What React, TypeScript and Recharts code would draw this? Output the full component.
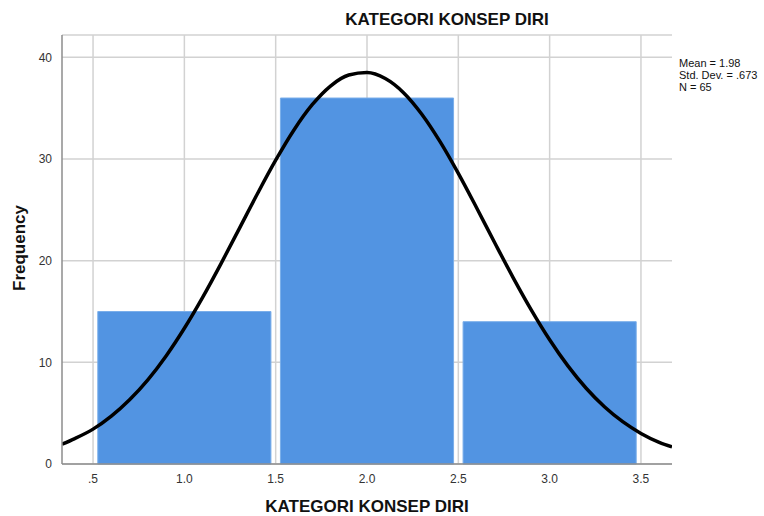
import {
  CartesianGrid,
  ComposedChart,
  Line,
  ReferenceArea,
  XAxis,
  YAxis,
} from "recharts";

// histogram bins (class limits) and their frequencies
const binStarts = [0.5, 1.5, 2.5];
const binEnds = [1.5, 2.5, 3.5];
const frequencies = [15, 36, 14];

// fitted normal curve
const curveX = [
  0.33, 0.4, 0.5, 0.6, 0.7, 0.8, 0.9, 1.0, 1.1, 1.2, 1.3, 1.4, 1.5, 1.6, 1.7,
  1.8, 1.9, 2.0, 2.1, 2.2, 2.3, 2.4, 2.5, 2.6, 2.7, 2.8, 2.9, 3.0, 3.1, 3.2,
  3.3, 3.4, 3.5, 3.6, 3.67,
];
const curveY = [
  1.95, 2.5, 3.43, 4.71, 6.32, 8.28, 10.63, 13.35, 16.39, 19.69, 23.13, 26.58,
  29.88, 32.86, 35.34, 37.18, 38.26, 38.51, 37.92, 36.53, 34.41, 31.71, 28.59,
  25.21, 21.74, 18.34, 15.14, 12.22, 9.65, 7.45, 5.63, 4.16, 3.01, 2.13, 1.68,
];

const xTicks = [0.5, 1.0, 1.5, 2.0, 2.5, 3.0, 3.5];
const yTicks = [0, 10, 20, 30, 40];
const xDomain = [0.33, 3.67];

const statLines = ["Mean = 1.98", "Std. Dev. = .673", "N = 65"];

const chartData = curveX.map((x, i) => ({ x, y: curveY[i] }));

const barInset = 0.026;

const fontFamily = "Arial, 'Liberation Sans', sans-serif";

function formatX(v: number) {
  const s = v.toFixed(1);
  return s.startsWith("0") ? s.slice(1) : s;
}

// vertical grid lines only at the tick values (no line at the right edge)
function verticalGrid(props: any) {
  const scale = props?.xAxis?.scale;
  if (typeof scale === "function") return xTicks.map((t) => scale(t));
  const { left, width } = props.offset;
  return xTicks.map(
    (t) => left + ((t - xDomain[0]) / (xDomain[1] - xDomain[0])) * width
  );
}

export default function App() {
  return (
    <div
      style={{
        position: "absolute",
        left: 0,
        top: 0,
        width: 764,
        height: 516,
        background: "#fff",
        fontFamily,
      }}
    >
      <div
        style={{
          position: "absolute",
          left: 345,
          top: 10,
          width: 204,
          textAlign: "center",
          fontSize: 17,
          fontWeight: 700,
          color: "#111",
          whiteSpace: "nowrap",
        }}
      >
        KATEGORI KONSEP DIRI
      </div>

      <ComposedChart
        width={764}
        height={516}
        data={chartData}
        margin={{ top: 35, right: 92, left: 32, bottom: 22 }}
      >
        <CartesianGrid
          stroke="#d2d2d2"
          strokeWidth={1.5}
          verticalCoordinatesGenerator={verticalGrid}
        />

        <XAxis
          dataKey="x"
          type="number"
          domain={xDomain}
          ticks={xTicks}
          allowDataOverflow
          tickFormatter={formatX}
          height={30}
          tickLine={false}
          axisLine={{ stroke: "#8c8c8c", strokeWidth: 1.5 }}
          tick={{ fill: "#333", fontSize: 12, fontFamily }}
          tickMargin={4}
        />

        <YAxis
          type="number"
          domain={[0, 42.2]}
          ticks={yTicks}
          allowDataOverflow
          width={30}
          tickLine={false}
          axisLine={{ stroke: "#8c8c8c", strokeWidth: 1.5 }}
          tick={{ fill: "#333", fontSize: 12, fontFamily }}
          tickMargin={4}
        />

        {frequencies.map((f, i) => (
          <ReferenceArea
            key={i}
            x1={binStarts[i] + barInset}
            x2={binEnds[i] - barInset}
            y1={0}
            y2={f}
            fill="#5294e2"
            fillOpacity={1}
            stroke="#7aaeea"
            strokeWidth={1}
          />
        ))}

        <Line
          dataKey="y"
          type="monotone"
          stroke="#000"
          strokeWidth={3.5}
          dot={false}
          activeDot={false}
          isAnimationActive={false}
        />
      </ComposedChart>

      <div
        style={{
          position: "absolute",
          left: 679,
          top: 57,
          fontSize: 11,
          lineHeight: "12px",
          color: "#111",
          whiteSpace: "nowrap",
        }}
      >
        {statLines.map((s) => (
          <div key={s}>{s}</div>
        ))}
      </div>

      <div
        style={{
          position: "absolute",
          left: 265,
          top: 497,
          width: 204,
          textAlign: "center",
          fontSize: 17,
          fontWeight: 700,
          color: "#111",
          whiteSpace: "nowrap",
        }}
      >
        KATEGORI KONSEP DIRI
      </div>

      <div
        style={{
          position: "absolute",
          left: 20,
          top: 248,
          transform: "translate(-50%, -50%) rotate(-90deg)",
          fontSize: 17,
          fontWeight: 700,
          color: "#111",
          whiteSpace: "nowrap",
        }}
      >
        Frequency
      </div>
    </div>
  );
}
